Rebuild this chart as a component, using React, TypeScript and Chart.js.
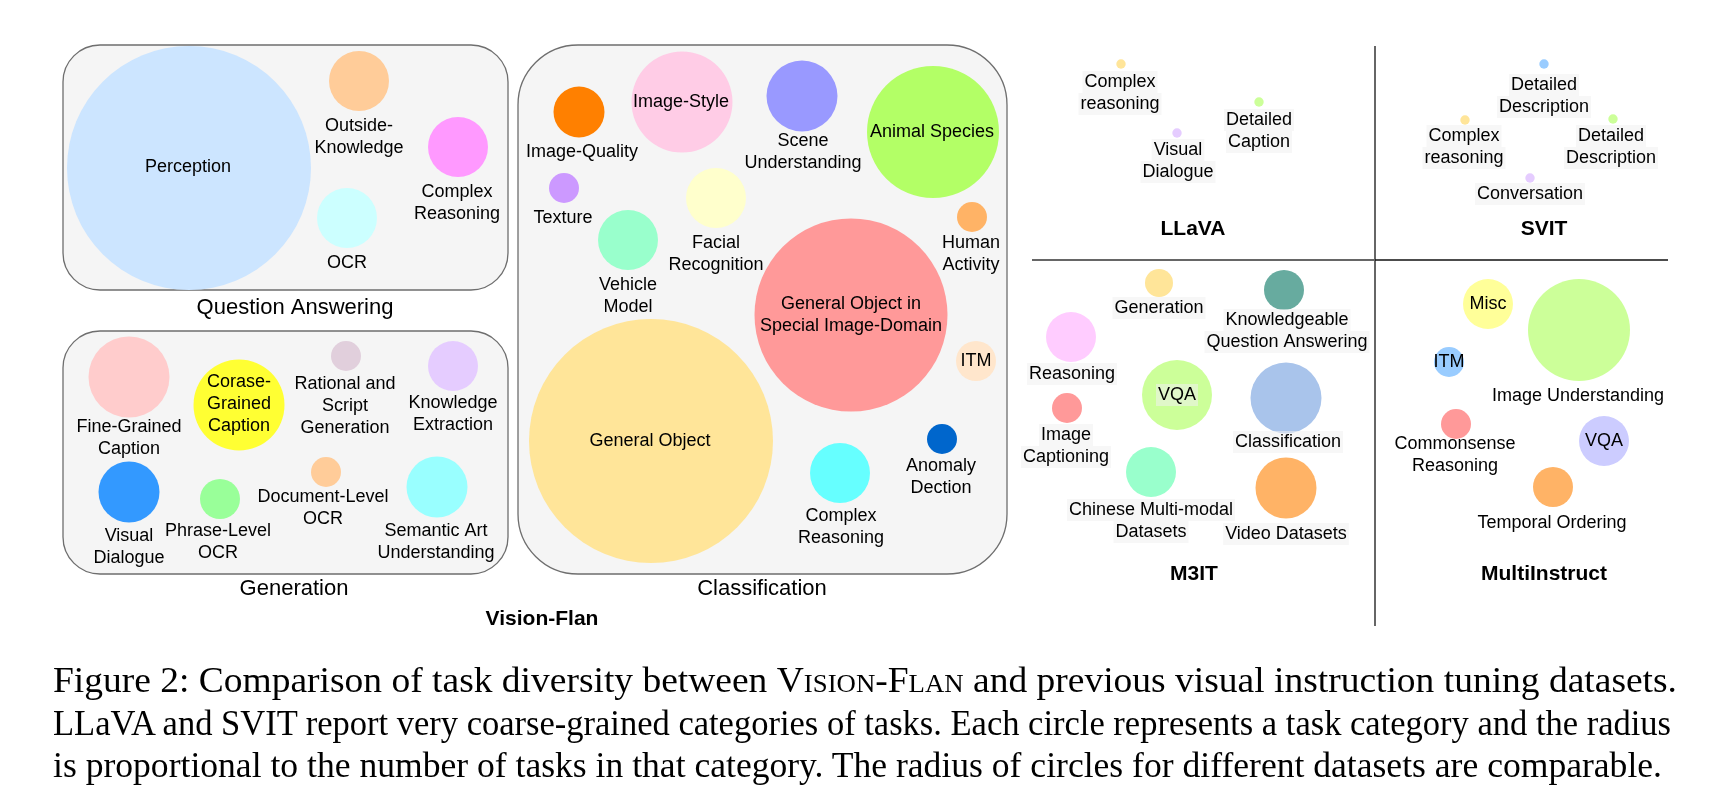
import React, { useEffect, useLayoutEffect, useRef } from "react";
import { Chart, registerables } from "chart.js";

Chart.register(...registerables);

type Task = { name: string; x: number; y: number; r: number; lx: number; ly: number; color: string };

// Vision-Flan : Question Answering
const qaTasks: Task[] = [
  { name: "Perception", x: 189, y: 168, r: 122, lx: 188, ly: 167, color: "#cce5ff" },
  { name: "Outside-\nKnowledge", x: 359, y: 81, r: 30, lx: 359, ly: 126, color: "#ffcc99" },
  { name: "Complex\nReasoning", x: 458, y: 147, r: 30, lx: 457, ly: 192, color: "#ff99ff" },
  { name: "OCR", x: 347, y: 218, r: 30, lx: 347, ly: 263, color: "#ccffff" },
];

// Vision-Flan : Generation
const genTasks: Task[] = [
  { name: "Fine-Grained\nCaption", x: 129, y: 377, r: 40.5, lx: 129, ly: 427, color: "#ffcccc" },
  { name: "Corase-\nGrained\nCaption", x: 239, y: 405, r: 45.5, lx: 239, ly: 382, color: "#ffff33" },
  { name: "Rational and\nScript\nGeneration", x: 346, y: 356, r: 15, lx: 345, ly: 384, color: "#e1cfdc" },
  { name: "Knowledge\nExtraction", x: 453, y: 366, r: 25, lx: 453, ly: 403, color: "#e5ccff" },
  { name: "Visual\nDialogue", x: 129, y: 492, r: 30.5, lx: 129, ly: 536, color: "#3399ff" },
  { name: "Phrase-Level\nOCR", x: 220, y: 499, r: 20, lx: 218, ly: 531, color: "#99ff99" },
  { name: "Document-Level\nOCR", x: 326, y: 472, r: 15, lx: 323, ly: 497, color: "#ffcc99" },
  { name: "Semantic Art\nUnderstanding", x: 437, y: 487, r: 30.5, lx: 436, ly: 531, color: "#99ffff" },
];

// Vision-Flan : Classification
const clsTasks: Task[] = [
  { name: "Image-Quality", x: 579, y: 112, r: 25.5, lx: 582, ly: 152, color: "#ff8000" },
  { name: "Image-Style", x: 682, y: 102, r: 50.5, lx: 681, ly: 102, color: "#ffcce6" },
  { name: "Scene\nUnderstanding", x: 802, y: 96, r: 35.5, lx: 803, ly: 141, color: "#9999ff" },
  { name: "Animal Species", x: 933, y: 132, r: 66, lx: 932, ly: 132, color: "#b3ff66" },
  { name: "Texture", x: 564, y: 188, r: 15, lx: 563, ly: 218, color: "#cc99ff" },
  { name: "Facial\nRecognition", x: 716, y: 198, r: 30, lx: 716, ly: 243, color: "#ffffcc" },
  { name: "Vehicle\nModel", x: 628, y: 240, r: 30, lx: 628, ly: 285, color: "#99ffcc" },
  { name: "Human\nActivity", x: 972, y: 217, r: 15, lx: 971, ly: 243, color: "#ffb366" },
  { name: "General Object in\nSpecial Image-Domain", x: 851, y: 315, r: 96.5, lx: 851, ly: 304, color: "#ff9999" },
  { name: "General Object", x: 651, y: 441, r: 122, lx: 650, ly: 441, color: "#ffe599" },
  { name: "ITM", x: 976, y: 361, r: 20, lx: 976, ly: 361, color: "#ffe6cc" },
  { name: "Complex\nReasoning", x: 840, y: 473, r: 30, lx: 841, ly: 516, color: "#66ffff" },
  { name: "Anomaly\nDection", x: 942, y: 439, r: 15, lx: 941, ly: 466, color: "#0066cc" },
];

// LLaVA
const llavaTasks: Task[] = [
  { name: "Complex\nreasoning", x: 1121, y: 64, r: 4.7, lx: 1120, ly: 82, color: "#ffe599" },
  { name: "Detailed\nCaption", x: 1259, y: 102, r: 4.7, lx: 1259, ly: 120, color: "#ccff99" },
  { name: "Visual\nDialogue", x: 1177, y: 133, r: 4.7, lx: 1178, ly: 150, color: "#e5ccff" },
];

// SVIT
const svitTasks: Task[] = [
  { name: "Detailed\nDescription", x: 1544, y: 64, r: 4.7, lx: 1544, ly: 85, color: "#99ccff" },
  { name: "Complex\nreasoning", x: 1465, y: 120, r: 4.7, lx: 1464, ly: 136, color: "#ffe599" },
  { name: "Detailed\nDescription", x: 1613, y: 119, r: 4.7, lx: 1611, ly: 136, color: "#ccff99" },
  { name: "Conversation", x: 1530, y: 178, r: 4.7, lx: 1530, ly: 194, color: "#e5ccff" },
];

// M3IT
const m3itTasks: Task[] = [
  { name: "Generation", x: 1159, y: 283, r: 14, lx: 1159, ly: 308, color: "#ffe599" },
  { name: "Knowledgeable\nQuestion Answering", x: 1284, y: 290, r: 20, lx: 1287, ly: 320, color: "#67ab9f" },
  { name: "Reasoning", x: 1071, y: 337, r: 25, lx: 1072, ly: 374, color: "#ffccff" },
  { name: "VQA", x: 1177, y: 395, r: 35, lx: 1177, ly: 395, color: "#ccff99" },
  { name: "Image\nCaptioning", x: 1067, y: 408, r: 15, lx: 1066, ly: 435, color: "#ff9999" },
  { name: "Classification", x: 1286, y: 398, r: 35.5, lx: 1288, ly: 442, color: "#a9c4eb" },
  { name: "Chinese Multi-modal\nDatasets", x: 1151, y: 472, r: 25, lx: 1151, ly: 510, color: "#99ffcc" },
  { name: "Video Datasets", x: 1286, y: 488, r: 30.5, lx: 1286, ly: 534, color: "#ffb366" },
];

// MultiInstruct
const multiTasks: Task[] = [
  { name: "Misc", x: 1488, y: 304, r: 25, lx: 1488, ly: 304, color: "#ffff99" },
  { name: "Image Understanding", x: 1579, y: 330, r: 51, lx: 1578, ly: 396, color: "#ccff99" },
  { name: "ITM", x: 1449, y: 362, r: 15, lx: 1449, ly: 362, color: "#99ccff" },
  { name: "Commonsense\nReasoning", x: 1456, y: 424, r: 15, lx: 1455, ly: 444, color: "#ff9999" },
  { name: "VQA", x: 1604, y: 441, r: 25, lx: 1604, ly: 441, color: "#ccccff" },
  { name: "Temporal Ordering", x: 1553, y: 487, r: 20, lx: 1552, ly: 523, color: "#ffb366" },
];

// group boxes (Vision-Flan)
const groupBoxes = [
  { title: "Question Answering", x0: 63, y0: 45, x1: 508, y1: 290, corner: 37, tx: 295, ty: 308 },
  { title: "Generation", x0: 63, y0: 331, x1: 508, y1: 574, corner: 37, tx: 294, ty: 589 },
  { title: "Classification", x0: 518, y0: 45, x1: 1007, y1: 574, corner: 60, tx: 762, ty: 589 },
];

const datasetTitles = [
  { title: "Vision-Flan", x: 542, y: 619 },
  { title: "LLaVA", x: 1193, y: 229 },
  { title: "SVIT", x: 1544, y: 229 },
  { title: "M3IT", x: 1194, y: 574 },
  { title: "MultiInstruct", x: 1544, y: 574 },
];

const panels = [
  { label: "Question Answering", tasks: qaTasks, shaded: false },
  { label: "Generation", tasks: genTasks, shaded: false },
  { label: "Classification", tasks: clsTasks, shaded: false },
  { label: "LLaVA", tasks: llavaTasks, shaded: true },
  { label: "SVIT", tasks: svitTasks, shaded: true },
  { label: "M3IT", tasks: m3itTasks, shaded: true },
  { label: "MultiInstruct", tasks: multiTasks, shaded: false },
];

const captionLines = [
  { parts: ["Figure 2: Comparison of task diversity between ", "Vision-Flan", " and previous visual instruction tuning datasets."], width: 1624 },
  { parts: ["LLaVA and SVIT report very coarse-grained categories of tasks. Each circle represents a task category and the radius"], width: 1618 },
  { parts: ["is proportional to the number of tasks in that category. The radius of circles for different datasets are comparable."], width: 1609 },
];

const W = 1717;
const H = 804;
const SANS = '"Liberation Sans", Arimo, Arial, sans-serif';

const decorPlugin = {
  id: "decor",
  beforeDatasetsDraw(chart: any) {
    const { ctx, scales } = chart;
    const px = (v: number) => scales.x.getPixelForValue(v);
    const py = (v: number) => scales.y.getPixelForValue(v);
    ctx.save();
    groupBoxes.forEach((b) => {
      ctx.beginPath();
      ctx.roundRect(px(b.x0), py(b.y0), px(b.x1) - px(b.x0), py(b.y1) - py(b.y0), b.corner);
      ctx.fillStyle = "#f5f5f5";
      ctx.fill();
      ctx.lineWidth = 1.3;
      ctx.strokeStyle = "#6e6e6e";
      ctx.stroke();
    });
    ctx.lineWidth = 1.5;
    ctx.strokeStyle = "#333";
    ctx.beginPath();
    ctx.moveTo(px(1375), py(46));
    ctx.lineTo(px(1375), py(626));
    ctx.stroke();
    ctx.lineWidth = 2;
    ctx.strokeStyle = "#666";
    ctx.beginPath();
    ctx.moveTo(px(1032), py(260));
    ctx.lineTo(px(1375), py(260));
    ctx.stroke();
    ctx.lineWidth = 1.5;
    ctx.strokeStyle = "#111";
    ctx.beginPath();
    ctx.moveTo(px(1375), py(260));
    ctx.lineTo(px(1668), py(260));
    ctx.stroke();
    ctx.restore();
  },
  afterDatasetsDraw(chart: any) {
    const { ctx, scales } = chart;
    const px = (v: number) => scales.x.getPixelForValue(v);
    const py = (v: number) => scales.y.getPixelForValue(v);
    ctx.save();
    ctx.textAlign = "center";
    ctx.textBaseline = "middle";
    const lh = 22;
    panels.forEach((p) => {
      p.tasks.forEach((t) => {
        ctx.font = `18px ${SANS}`;
        const lines = t.name.split("\n");
        lines.forEach((line, i) => {
          const cx = px(t.lx);
          const cy = py(t.ly) + i * lh;
          if (p.shaded) {
            const w = ctx.measureText(line).width;
            ctx.fillStyle = "rgba(240,240,240,0.55)";
            ctx.fillRect(cx - w / 2 - 2, cy - lh / 2, w + 4, lh);
          }
          ctx.fillStyle = "#000";
          ctx.fillText(line, cx, cy);
        });
      });
    });
    ctx.font = `22px ${SANS}`;
    ctx.fillStyle = "#000";
    groupBoxes.forEach((b) => ctx.fillText(b.title, px(b.tx), py(b.ty)));
    ctx.font = `bold 21px ${SANS}`;
    datasetTitles.forEach((d) => ctx.fillText(d.title, px(d.x), py(d.y)));
    ctx.restore();
  },
};

function renderParts(parts: string[]) {
  return parts.map((s, j) =>
    s === "Vision-Flan" ? (
      <span key={j} style={{ fontVariant: "small-caps" }}>{s}</span>
    ) : (
      <span key={j}>{s}</span>
    )
  );
}

export default function App() {
  const ref = useRef<HTMLCanvasElement>(null);
  const capRef = useRef<HTMLDivElement>(null);

  useLayoutEffect(() => {
    const el = capRef.current;
    if (!el) return;
    const spans = el.querySelectorAll("[data-line]");
    spans.forEach((s, i) => {
      const span = s as HTMLElement;
      const w = span.getBoundingClientRect().width;
      if (w > 0) span.style.transform = `scaleX(${captionLines[i].width / w})`;
    });
  }, []);

  useEffect(() => {
    if (!ref.current) return;
    const chart = new Chart(ref.current, {
      type: "bubble",
      data: {
        datasets: panels.map((p) => ({
          label: p.label,
          data: p.tasks.map((t) => ({ x: t.x, y: t.y, r: t.r })),
          backgroundColor: p.tasks.map((t) => t.color),
          borderColor: p.tasks.map((t) => t.color),
          borderWidth: 0,
          hoverRadius: 0,
          clip: false as any,
        })),
      },
      options: {
        animation: false,
        responsive: false,
        devicePixelRatio: 1,
        events: [],
        layout: { padding: 0, autoPadding: false },
        plugins: { legend: { display: false }, tooltip: { enabled: false } },
        scales: {
          x: { type: "linear", min: 0, max: W, display: false },
          y: { type: "linear", min: 0, max: H, reverse: true, display: false },
        },
      },
      plugins: [decorPlugin],
    });
    return () => chart.destroy();
  }, []);

  const serif = '"Liberation Serif", "Times New Roman", serif';

  return (
    <div style={{ position: "absolute", left: 0, top: 0, width: W, height: H, background: "#fff", overflow: "hidden" }}>
      <canvas ref={ref} width={W} height={H} style={{ position: "absolute", left: 0, top: 0, width: W, height: H }} />
      <div
        ref={capRef}
        style={{
          position: "absolute",
          left: 53,
          top: 660,
          fontFamily: serif,
          fontSize: 35,
          lineHeight: "42.5px",
          color: "#000",
          width: 1660,
        }}
      >
        {captionLines.map((l, i) => (
          <div key={i}>
            <span
              data-line="1"
              style={{ display: "inline-block", whiteSpace: "nowrap", transformOrigin: "left center" }}
            >
              {renderParts(l.parts)}
            </span>
          </div>
        ))}
      </div>
    </div>
  );
}
